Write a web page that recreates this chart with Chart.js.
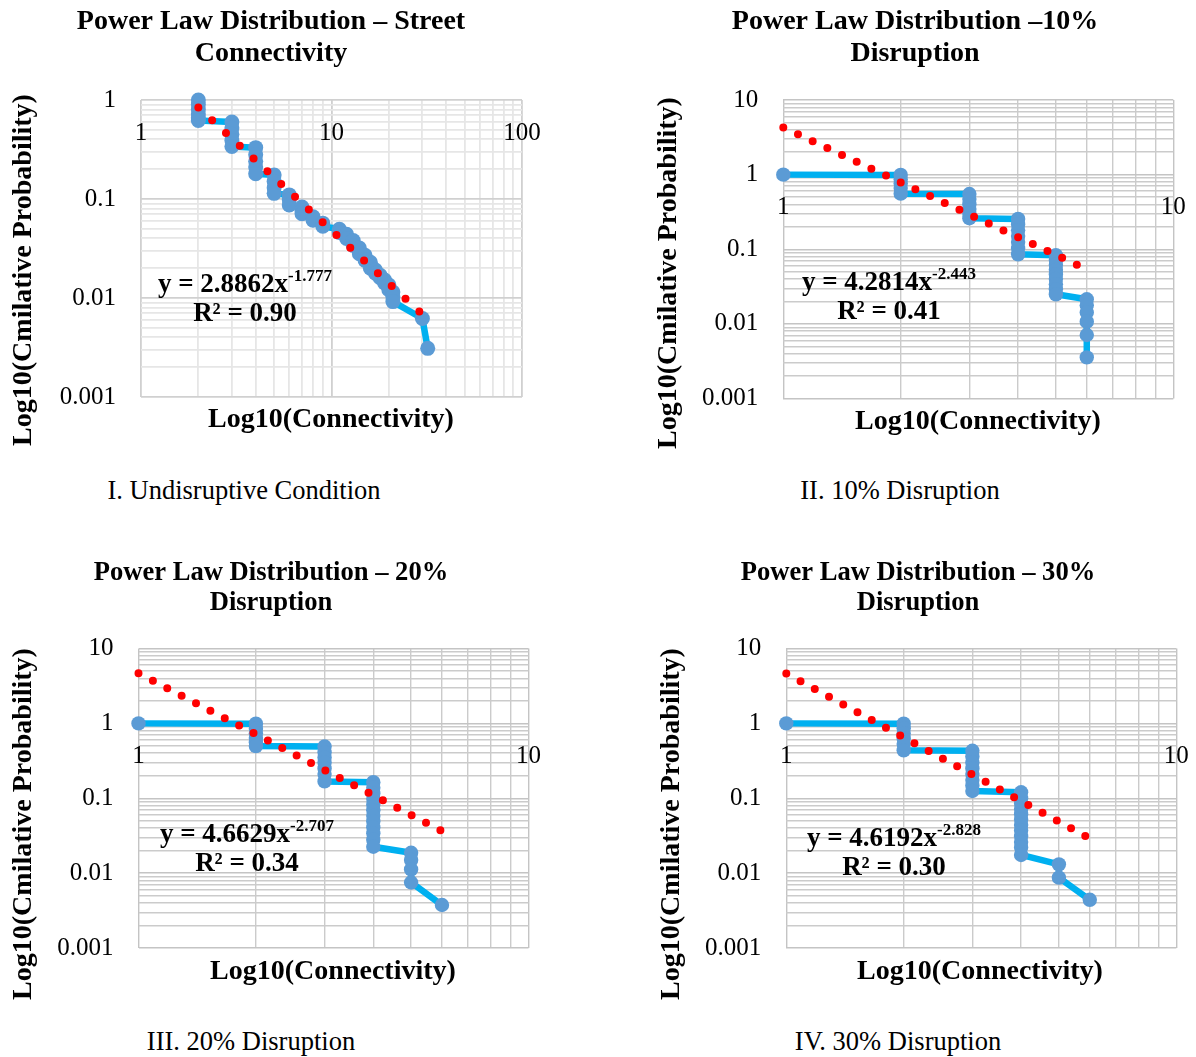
<!DOCTYPE html>
<html>
<head>
<meta charset="utf-8">
<script src="https://cdn.jsdelivr.net/npm/chart.js@4.4.0/dist/chart.umd.min.js"></script>
<style>
    body { margin: 0; background: #fff; width: 1196px; height: 1057px; position: relative; overflow: hidden;
           font-family: "Liberation Serif", "Times New Roman", serif; color: #000; }
    canvas { position: absolute; }
    .txt { position: absolute; white-space: nowrap; transform: translateX(-50%); text-align: center; }
    .bold { font-weight: bold; font-size: 28px; line-height: 32px; }
    .ytitle { position: absolute; white-space: nowrap; font-weight: bold; font-size: 28px; line-height: 32px;
              transform: translate(-50%, -50%) rotate(-90deg); }
    .eq { font-weight: bold; font-size: 27px; line-height: 29px; }
    .eq sup { font-size: 17px; position: relative; top: -11px; vertical-align: baseline; line-height: 0; }
    .cap { font-size: 26.5px; line-height: 32px; }
</style>
</head>
<body>
<canvas id="chart1" width="542" height="420" style="left:0;top:0"></canvas>
<canvas id="chart2" width="560" height="420" style="left:636px;top:0"></canvas>
<canvas id="chart3" width="542" height="420" style="left:0;top:550px"></canvas>
<canvas id="chart4" width="556" height="420" style="left:640px;top:550px"></canvas>

<div class="ytitle" style="left:22px;top:270px">Log10(Cmilative Probability)</div>
<div class="ytitle" style="left:667px;top:273px">Log10(Cmilative Probability)</div>
<div class="ytitle" style="left:22px;top:824px">Log10(Cmilative Probability)</div>
<div class="ytitle" style="left:670px;top:824px">Log10(Cmilative Probability)</div>

<div class="txt bold" style="left:331px;top:402px">Log10(Connectivity)</div>
<div class="txt bold" style="left:978px;top:404px">Log10(Connectivity)</div>
<div class="txt bold" style="left:333px;top:954px">Log10(Connectivity)</div>
<div class="txt bold" style="left:980px;top:954px">Log10(Connectivity)</div>

<div class="txt eq" style="left:245px;top:269px">y = 2.8862x<sup>-1.777</sup><br>R² = 0.90</div>
<div class="txt eq" style="left:889px;top:267px">y = 4.2814x<sup>-2.443</sup><br>R² = 0.41</div>
<div class="txt eq" style="left:247px;top:819px">y = 4.6629x<sup>-2.707</sup><br>R² = 0.34</div>
<div class="txt eq" style="left:894px;top:823px">y = 4.6192x<sup>-2.828</sup><br>R² = 0.30</div>

<div class="txt cap" style="left:244px;top:474px">I. Undisruptive Condition</div>
<div class="txt cap" style="left:900px;top:474px">II. 10% Disruption</div>
<div class="txt cap" style="left:251px;top:1025px">III. 20% Disruption</div>
<div class="txt cap" style="left:898px;top:1025px">IV. 30% Disruption</div>

<script>
// connectivity (degree) and cumulative probability
const deg1 = [2, 2, 2, 2, 2, 2, 3, 3, 3, 3, 3, 4, 4, 4, 4, 4, 5, 5, 5, 5, 6, 6, 6, 7, 7, 7, 8, 8, 9, 9,
    11, 11, 12, 12, 13, 13, 14, 14, 15, 15, 16, 16, 17, 17, 18, 18, 19, 19, 20, 20, 21, 21, 21, 30, 32];
const cum1 = [1.0, 0.9, 0.8, 0.72, 0.66, 0.62, 0.60, 0.52, 0.45, 0.39, 0.34, 0.33, 0.28, 0.24, 0.21, 0.18,
    0.175, 0.15, 0.13, 0.114, 0.11, 0.098, 0.087, 0.083, 0.076, 0.071, 0.066, 0.061, 0.057, 0.053,
    0.0495, 0.046, 0.044, 0.040, 0.038, 0.034, 0.032, 0.028, 0.027, 0.024, 0.023, 0.020, 0.0192, 0.0178,
    0.0170, 0.0160, 0.0152, 0.0142, 0.0135, 0.0121, 0.0115, 0.0103, 0.0092, 0.0062, 0.0031];
const trendDeg1 = [2, 32];
const trendCum1 = [0.842, 0.0061];

const deg2 = [1, 2, 2, 2, 2, 2, 3, 3, 3, 3, 3, 3, 4, 4, 4, 4, 4, 4, 4, 5, 5, 5, 5, 5, 5, 5, 5, 5, 6, 6, 6, 6, 6, 6];
const cum2 = [1.0, 0.99, 0.87, 0.76, 0.66, 0.556, 0.55, 0.47, 0.40, 0.345, 0.30, 0.26,
    0.255, 0.215, 0.18, 0.15, 0.125, 0.103, 0.0855, 0.083, 0.072, 0.062, 0.053, 0.046, 0.040, 0.034, 0.029, 0.0249,
    0.0214, 0.0178, 0.0142, 0.0107, 0.0071, 0.00356];
const trendDeg2 = [1, 6];
const trendCum2 = [4.28, 0.0538];

const deg3 = [1, 2, 2, 2, 2, 2, 2, 3, 3, 3, 3, 3, 3, 3, 4, 4, 4, 4, 4, 4, 4, 4, 4, 4, 4, 4, 5, 5, 5, 5, 6];
const cum3 = [1.0, 0.99, 0.85, 0.74, 0.64, 0.56, 0.498, 0.49, 0.41, 0.35, 0.30, 0.25, 0.21, 0.168,
    0.164, 0.138, 0.116, 0.098, 0.082, 0.069, 0.058, 0.049, 0.041, 0.034, 0.028, 0.0225,
    0.0187, 0.0150, 0.0112, 0.0075, 0.00375];
const trendDeg3 = [1, 6];
const trendCum3 = [4.66, 0.0365];

const deg4 = [1, 2, 2, 2, 2, 2, 2, 3, 3, 3, 3, 3, 3, 3, 3, 4, 4, 4, 4, 4, 4, 4, 4, 4, 4, 4, 4, 5, 5, 6];
const cum4 = [1.0, 0.99, 0.86, 0.74, 0.63, 0.53, 0.436, 0.43, 0.36, 0.30, 0.25, 0.21, 0.175, 0.148, 0.125,
    0.12, 0.10, 0.085, 0.072, 0.061, 0.052, 0.044, 0.037, 0.031, 0.026, 0.022, 0.0175,
    0.0131, 0.0087, 0.0044];
const trendDeg4 = [1, 6];
const trendCum4 = [4.62, 0.0291];

// gridline positions: 1..9 times each power of ten
function logTicks(fromExp, toExp) {
    const out = [];
    for (let e = fromExp; e < toExp; e++) {
        for (let m = 1; m < 10; m++) out.push(Number((m * Math.pow(10, e)).toPrecision(6)));
    }
    out.push(Math.pow(10, toExp));
    return out;
}

function isPow10(v) {
    const l = Math.log10(v);
    return Math.abs(l - Math.round(l)) < 1e-9;
}

Chart.defaults.font.family = '"Liberation Serif", "Times New Roman", serif';
Chart.defaults.color = '#000';

function makeChart(id, o) {
    const points = o.deg.map((x, i) => ({ x: x, y: o.cum[i] }));
    const trend = o.trendDeg.map((x, i) => ({ x: x, y: o.trendCum[i] }));
    const gridColor = c => (c.tick && isPow10(c.tick.value)) ? o.majorGrid : o.minorGrid;
    const xTicks = logTicks(0, o.xMaxExp);
    const yTicks = logTicks(-3, o.yMaxExp);

    new Chart(document.getElementById(id), {
        type: 'scatter',
        data: {
            datasets: [
                {
                    label: 'Power trendline',
                    data: trend,
                    showLine: true,
                    borderColor: '#FF0000',
                    borderWidth: 8,
                    borderDash: [0, o.dotGap],
                    borderCapStyle: 'round',
                    pointRadius: 0,
                    clip: false,
                    order: 0
                },
                {
                    label: 'Cumulative probability',
                    data: points,
                    showLine: true,
                    borderColor: '#00B0F0',
                    borderWidth: 6.5,
                    borderJoinStyle: 'round',
                    pointRadius: o.markerR,
                    pointBackgroundColor: '#5B9BD5',
                    pointBorderWidth: 0,
                    clip: false,
                    order: 1
                }
            ]
        },
        options: {
            responsive: false,
            animation: false,
            devicePixelRatio: 1,
            layout: { padding: o.pad },
            plugins: {
                legend: { display: false },
                tooltip: { enabled: false },
                title: {
                    display: true,
                    text: o.title,
                    color: '#000',
                    font: { size: o.titleSize, weight: 'bold', lineHeight: o.titleLH / o.titleSize },
                    padding: { top: 0, bottom: o.titleGap }
                }
            },
            scales: {
                x: {
                    type: 'logarithmic',
                    min: 1,
                    max: Math.pow(10, o.xMaxExp),
                    position: { y: 1 },
                    afterBuildTicks: s => { s.ticks = xTicks.map(v => ({ value: v, major: isPow10(v) })); },
                    ticks: {
                        autoSkip: false,
                        maxRotation: 0,
                        padding: 0,
                        font: { size: 25 },
                        color: '#000',
                        callback: v => isPow10(v) ? String(v) : ''
                    },
                    grid: { color: gridColor, lineWidth: o.gridW, drawTicks: true, tickLength: 18, tickColor: 'rgba(0,0,0,0)' },
                    border: { display: false }
                },
                y: {
                    type: 'logarithmic',
                    min: 0.001,
                    max: Math.pow(10, o.yMaxExp),
                    afterBuildTicks: s => { s.ticks = yTicks.map(v => ({ value: v, major: isPow10(v) })); },
                    afterFit: s => { s.width = o.yWidth; },
                    ticks: {
                        autoSkip: false,
                        padding: 0,
                        font: { size: 25 },
                        color: '#000',
                        callback: v => isPow10(v) ? String(v) : ''
                    },
                    grid: { color: gridColor, lineWidth: o.gridW, drawTicks: true, tickLength: 25, tickColor: 'rgba(0,0,0,0)' },
                    border: { display: false }
                }
            }
        }
    });
}

makeChart('chart1', {
    deg: deg1, cum: cum1, trendDeg: trendDeg1, trendCum: trendCum1,
    title: ['Power Law Distribution – Street', 'Connectivity'],
    titleSize: 28, titleLH: 32, titleGap: 30, pad: { top: 6, left: 20, right: 20, bottom: 23 },
    yWidth: 121, xMaxExp: 2, yMaxExp: 0, dotGap: 18.8, markerR: 7.5,
    majorGrid: '#d0d0d0', minorGrid: '#e6e6e6', gridW: 1.8
});

makeChart('chart2', {
    deg: deg2, cum: cum2, trendDeg: trendDeg2, trendCum: trendCum2,
    title: ['Power Law Distribution –10%', 'Disruption'],
    titleSize: 28, titleLH: 32, titleGap: 30, pad: { top: 6, left: 20.7, right: 22.7, bottom: 21.5 },
    yWidth: 126.6, xMaxExp: 1, yMaxExp: 1, dotGap: 16.2, markerR: 7.2,
    majorGrid: '#c4c4c4', minorGrid: '#cbcbcb', gridW: 1.4
});

makeChart('chart3', {
    deg: deg3, cum: cum3, trendDeg: trendDeg3, trendCum: trendCum3,
    title: ['Power Law Distribution – 20%', 'Disruption'],
    titleSize: 26.6, titleLH: 30, titleGap: 30.5, pad: { top: 8, left: 13.5, right: 13.5, bottom: 22 },
    yWidth: 125, xMaxExp: 1, yMaxExp: 1, dotGap: 16.2, markerR: 7.2,
    majorGrid: '#c4c4c4', minorGrid: '#cbcbcb', gridW: 1.4
});

makeChart('chart4', {
    deg: deg4, cum: cum4, trendDeg: trendDeg4, trendCum: trendCum4,
    title: ['Power Law Distribution – 30%', 'Disruption'],
    titleSize: 26.6, titleLH: 30, titleGap: 30.5, pad: { top: 8, left: 19.7, right: 19.7, bottom: 22 },
    yWidth: 126.6, xMaxExp: 1, yMaxExp: 1, dotGap: 16.2, markerR: 7.2,
    majorGrid: '#c4c4c4', minorGrid: '#cbcbcb', gridW: 1.4
});
</script>
</body>
</html>
